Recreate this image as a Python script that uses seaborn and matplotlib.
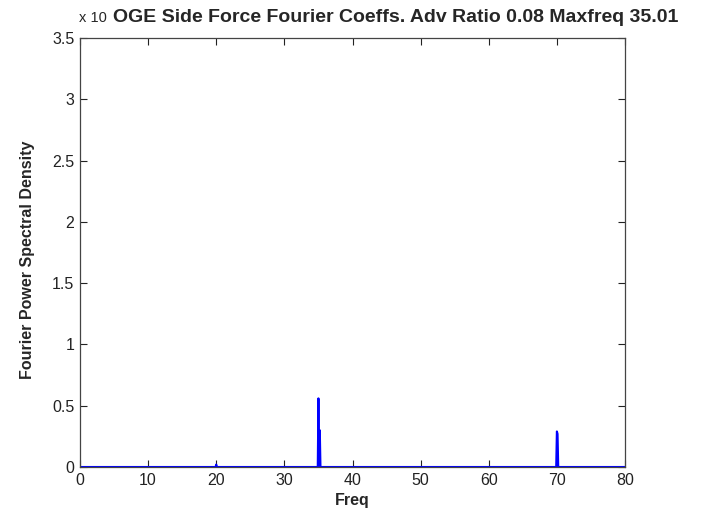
import matplotlib
matplotlib.use("Agg")
import matplotlib.pyplot as plt
import seaborn as sns
import pandas as pd

freq = [0.0, 19.9, 20.0, 20.1, 34.9, 35.0, 35.1, 35.2, 35.3, 69.9, 70.0, 70.1, 70.2, 80.0]
psd = [0.0, 0.0, 0.02, 0.0, 0.0, 0.56, 0.0, 0.30, 0.0, 0.0, 0.29, 0.27, 0.0, 0.0]
yticks = [0, 0.5, 1, 1.5, 2, 2.5, 3, 3.5]
yticklabels = ["0", "0.5", "1", "1.5", "2", "2.5", "3", "3.5"]
xticks = [0, 10, 20, 30, 40, 50, 60, 70, 80]

sns.set_theme(style="white")
plt.rcParams['font.family'] = ['Liberation Sans', 'DejaVu Sans']
plt.rcParams['xtick.direction'] = 'in'
plt.rcParams['ytick.direction'] = 'in'

df = pd.DataFrame({"Freq": freq, "PSD": psd})
fig = plt.figure(figsize=(7.02, 5.17), dpi=100)
ax = fig.add_axes([80/702, 50/517, 545/702, 429/517])
sns.lineplot(data=df, x="Freq", y="PSD", ax=ax, color="#0000ff", linewidth=1.5, sort=False)
ax.set_xlim(0, 80)
ax.set_ylim(0, 3.5)
ax.set_xticks(xticks)
ax.set_xticklabels([str(t) for t in xticks], fontsize=11.5)
ax.set_yticks(yticks)
ax.set_yticklabels(yticklabels, fontsize=11.5)
ax.tick_params(axis='both', which='both', direction='in', length=5, width=0.8,
               top=True, right=True, bottom=True, left=True, pad=4, colors='#222222')
for s in ax.spines.values():
    s.set_color('#444444')
    s.set_linewidth(0.9)
ax.set_xlabel("Freq", fontsize=11.5, fontweight='bold', labelpad=4)
ax.set_ylabel("Fourier Power Spectral Density", fontsize=11.5, fontweight='bold')
ax.yaxis.set_label_coords((35 - 80) / 545, (467 - 260) / 429)
fig.text(79/702, 1 - 18/517, "x 10", fontsize=10.5, ha='left', va='center')
fig.text(396/702, 1 - 18/517, "OGE Side Force Fourier Coeffs. Adv Ratio 0.08 Maxfreq 35.01",
         fontsize=14, fontweight='bold', ha='center', va='center')
fig.savefig("out.png", dpi=100)
